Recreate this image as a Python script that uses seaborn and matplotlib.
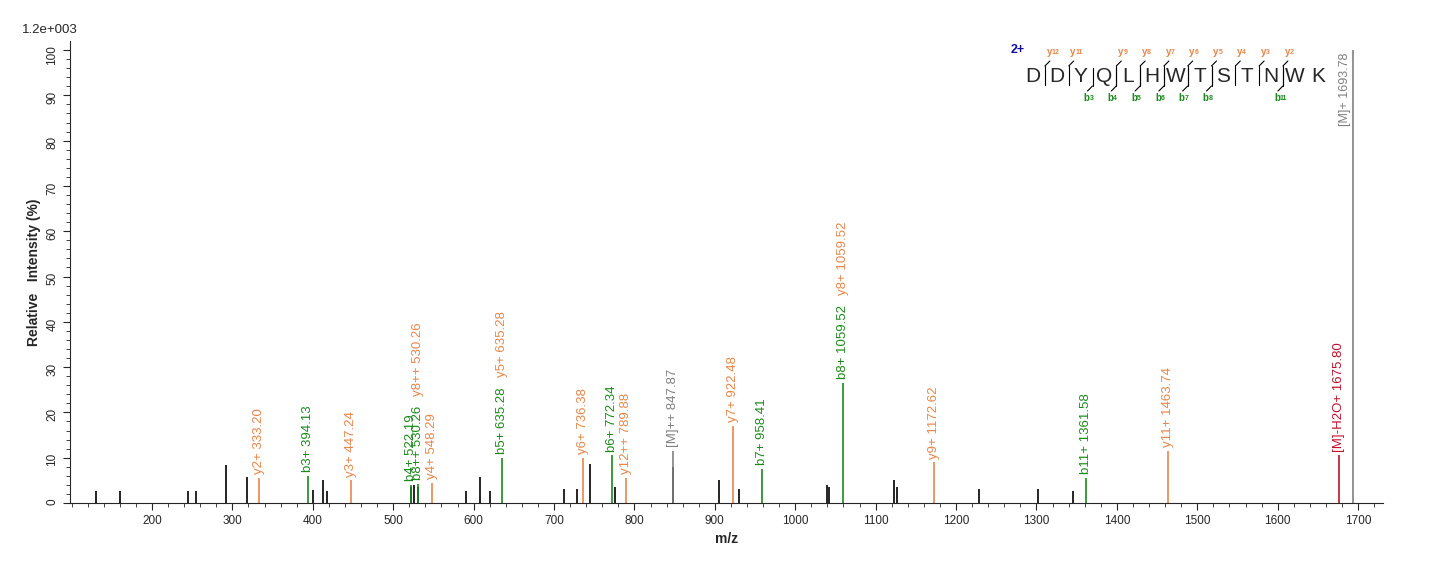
import numpy as np
import pandas as pd
import seaborn as sns
import matplotlib.pyplot as plt
from matplotlib.lines import Line2D

# unlabelled peaks (m/z, relative intensity %)
plain_mz = [130, 160, 245, 255, 292, 318, 400, 413, 418, 522, 526, 531, 591, 608, 620,
            712, 729, 745, 776, 848, 905, 930, 1040, 1042, 1123, 1127, 1228, 1302, 1345]
plain_int = [2.6, 2.6, 2.6, 2.6, 8.4, 5.7, 2.9, 5.0, 2.6, 3.5, 4.0, 3.5, 2.6, 5.7, 2.6,
             3.0, 3.0, 8.6, 3.5, 8.0, 5.0, 3.0, 4.0, 3.5, 5.0, 3.5, 3.0, 3.0, 2.6]

# annotated peaks
ion_mz = [333.20, 394.13, 447.24, 522.19, 530.26, 548.29, 635.28, 736.38, 772.34, 789.88,
          847.87, 922.48, 958.41, 1059.52, 1172.62, 1361.58, 1463.74, 1675.80, 1693.78]
ion_int = [5.5, 6.0, 5.0, 4.0, 4.3, 4.5, 10.0, 10.0, 10.5, 5.5,
           11.5, 17.0, 7.5, 26.5, 9.0, 5.5, 11.5, 10.5, 100.0]
ion_type = ['y', 'b', 'y', 'b', 'b', 'y', 'b', 'y', 'b', 'y',
            'M', 'y', 'b', 'b', 'y', 'b', 'y', 'R', 'M']
ion_labels = [['y2+ 333.20'], ['b3+ 394.13'], ['y3+ 447.24'], ['b4+ 522.19'],
              ['b8++ 530.26', 'y8++ 530.26'], ['y4+ 548.29'], ['b5+ 635.28', 'y5+ 635.28'],
              ['y6+ 736.38'], ['b6+ 772.34'], ['y12++ 789.88'], ['[M]++ 847.87'],
              ['y7+ 922.48'], ['b7+ 958.41'], ['b8+ 1059.52', 'y8+ 1059.52'], ['y9+ 1172.62'],
              ['b11+ 1361.58'], ['y11+ 1463.74'], ['[M]-H2O+ 1675.80'], ['[M]+ 1693.78']]

sequence = list('DDYQLHWTSTNWK')
y_marks = {1: 'y12', 2: 'y11', 4: 'y9', 5: 'y8', 6: 'y7', 7: 'y6', 8: 'y5', 9: 'y4', 10: 'y3', 11: 'y2'}
b_marks = {3: 'b3', 4: 'b4', 5: 'b5', 6: 'b6', 7: 'b7', 8: 'b8', 11: 'b11'}

colors = {'y': '#e8864a', 'b': '#1a8a1a', 'M': '#808080', 'R': '#c0102a', 'k': 'black'}
label_col = {'b': '#1a8a1a', 'y': '#e8864a'}

sns.set_style('white')
plt.rcParams['font.family'] = ['Liberation Sans', 'DejaVu Sans']

fig = plt.figure(figsize=(14.36, 5.62), dpi=100)
ax = fig.add_axes([70 / 1436, 1 - 503 / 562, 1313 / 1436, 462 / 562])
ax.set_xlim(98, 1731)
ax.set_ylim(0, 102)

ax.vlines(plain_mz, 0, plain_int, color='black', lw=1.2)
ax.vlines(ion_mz, 0, ion_int, color=[colors[t] for t in ion_type], lw=1.2)

for mz, h, t, labs in zip(ion_mz, ion_int, ion_type, ion_labels):
    y = h + 0.8
    if t == 'M' and h >= 100:
        ax.text(mz - 10, 99.5, labs[0], rotation=90, color=colors['M'], fontsize=9,
                ha='center', va='top')
        continue
    for lab in labs:
        c = colors[lab[0]] if lab[0] in 'by' else colors[t]
        txt = ax.text(mz, y, lab, rotation=90, color=c, fontsize=9.5, ha='center', va='bottom')
        y += len(lab) * 1.55 + 1.5

ax.set_xticks(range(200, 1701, 100))
ax.set_xticks(range(100, 1731, 20), minor=True)
ax.set_yticks(range(0, 101, 10))
ax.set_yticks(range(0, 101, 2), minor=True)
ax.tick_params(which='major', direction='out', length=5, labelsize=8.5, left=True, bottom=True)
ax.tick_params(which='minor', direction='out', length=3, left=True, bottom=True)
ax.tick_params(axis='y', labelrotation=90)
for s in ['top', 'right']:
    ax.spines[s].set_visible(False)
ax.set_xlabel('m/z', fontsize=10, fontweight='bold')
ax.set_ylabel('Relative   Intensity (%)', fontsize=10, fontweight='bold')
fig.text(22 / 1436, 1 - 30 / 562, '1.2e+003', fontsize=9.5, va='center')


def px(x, y):
    return x / 1436, 1 - y / 562


x0, step, ymid = 1033, 23.8, 76
for i, aa in enumerate(sequence):
    fig.text(*px(x0 + i * step, ymid), aa, fontsize=15, ha='center', va='center')
fig.text(*px(1018, 53), '2+', color='#1010a0', fontsize=9, fontweight='bold', ha='center')
for i, lab in y_marks.items():
    xb = x0 + (i - 0.5) * step
    fig.add_artist(Line2D([px(xb, 0)[0]] * 2, [px(0, 66)[1], px(0, 85)[1]], color='black', lw=0.8, transform=fig.transFigure))
    fig.add_artist(Line2D([px(xb, 0)[0], px(xb + 5, 0)[0]], [px(0, 66)[1], px(0, 61)[1]], color='black', lw=0.8, transform=fig.transFigure))
    fig.text(*px(xb + 7, 57), lab[0], color=label_col['y'], fontsize=7, fontweight='bold', ha='right', va='bottom')
    fig.text(*px(xb + 7, 56), lab[1:], color=label_col['y'], fontsize=5, fontweight='bold', ha='left', va='bottom')
for i, lab in b_marks.items():
    xb = x0 + (i - 0.5) * step
    fig.add_artist(Line2D([px(xb, 0)[0]] * 2, [px(0, 68)[1], px(0, 86)[1]], color='black', lw=0.8, transform=fig.transFigure))
    fig.add_artist(Line2D([px(xb, 0)[0], px(xb - 5, 0)[0]], [px(0, 86)[1], px(0, 91)[1]], color='black', lw=0.8, transform=fig.transFigure))
    fig.text(*px(xb - 3, 98), lab[0], color=label_col['b'], fontsize=7, fontweight='bold', ha='right', va='center')
    fig.text(*px(xb - 3, 99), lab[1:], color=label_col['b'], fontsize=5, fontweight='bold', ha='left', va='center')

fig.savefig('out.png', dpi=100)
